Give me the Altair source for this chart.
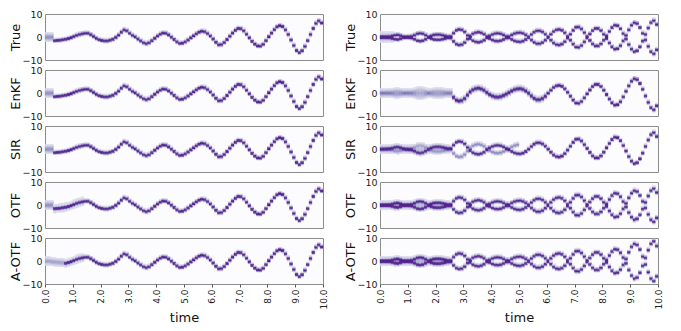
import numpy as np
import pandas as pd
import altair as alt

# ---- data -------------------------------------------------------------------------
# time grid: 100 steps of 0.1 over [0, 10]
n_steps = 100
dt = 0.1

# left column: state trajectory (value at each 0.1 step)
x_left = [0.0, 0.0, 0.0, -1.5, -1.4, -1.3, -1.1, -0.9, -0.6, -0.2,
          0.3, 0.8, 1.2, 1.5, 1.7, 1.7, 1.1, 0.3, -0.5, -1.1,
          -1.4, -1.6, -1.6, -1.3, -0.9, -0.1, 0.9, 2.2, 3.2, 2.8,
          1.7, 0.8, 0.1, -0.8, -1.6, -2.4, -2.8, -2.4, -1.5, -0.5,
          0.5, 1.3, 1.8, 1.7, 1.0, 0.0, -1.0, -2.0, -2.7, -2.6,
          -2.0, -1.2, -0.3, 0.6, 1.5, 2.2, 2.6, 2.4, 1.6, 0.5,
          -0.8, -2.2, -3.3, -3.2, -2.3, -1.0, 0.4, 1.8, 3.0, 3.8,
          3.7, 2.8, 1.3, -0.3, -1.8, -3.0, -3.8, -3.9, -3.1, -1.5,
          0.2, 1.8, 3.3, 4.5, 5.0, 4.6, 3.2, 1.2, -1.2, -3.6,
          -5.8, -6.7, -5.9, -4.0, -1.5, 1.2, 3.8, 6.0, 7.1, 6.2]

# right column: one branch of the (sign-ambiguous) state
x_right = [0.0, 0.0, 0.1, 0.2, 0.5, 0.9, 1.0, 0.7, 0.2, -0.1,
           -0.2, -0.4, -0.9, -1.5, -1.7, -1.5, -0.9, -0.1, 0.6, 1.0,
           1.1, 1.1, 0.9, 0.6, 0.3, -0.4, -1.8, -3.0, -3.4, -3.2,
           -2.3, -0.8, 0.6, 1.5, 2.0, 2.2, 1.9, 1.3, 0.3, -0.6,
           -1.2, -1.6, -1.7, -1.5, -1.0, -0.4, 0.3, 1.0, 1.6, 1.9,
           2.0, 1.7, 1.0, 0.0, -1.2, -2.2, -2.8, -2.8, -2.3, -1.3,
           0.0, 1.3, 2.5, 3.2, 3.4, 3.0, 1.9, 0.4, -1.3, -3.0,
           -4.3, -4.4, -3.6, -2.0, -0.3, 1.4, 2.9, 3.8, 3.8, 2.9,
           1.3, -0.6, -2.5, -4.2, -5.2, -5.0, -3.7, -1.6, 0.8, 3.2,
           5.2, 6.3, 5.9, 4.2, 1.7, -1.2, -4.0, -6.3, -7.2, -5.5]

# A-OTF (left) early blurred mean
aotf_left_early = [0.0, 0.0, -0.2, -0.4, -0.5, -0.6, -0.7]

methods = ["True", "EnKF", "SIR", "OTF", "A-OTF"]

# particle clouds: (base, first step, end step, sign, peak intensity, spread, gain)
left_tracks = {
    "True":  [("Z", 0, 3, 0, 0.5, 0.9, 1.0), ("L", 3, 100, 1, 1.8, 0.38, 1.0)],
    "EnKF":  [("Z", 0, 3, 0, 0.5, 0.9, 1.0), ("L", 3, 100, 1, 1.8, 0.38, 1.0)],
    "SIR":   [("Z", 0, 3, 0, 0.5, 0.9, 1.0), ("L", 3, 100, 1, 1.8, 0.38, 1.0)],
    "OTF":   [("Z", 0, 3, 0, 0.5, 0.9, 1.0), ("L", 3, 100, 1, 1.8, 0.38, 1.0),
              ("L", 3, 14, 1, 0.12, 1.2, 1.0)],
    "A-OTF": [("AL", 0, 7, 1, 0.4, 0.8, 1.0), ("L", 7, 100, 1, 1.8, 0.38, 1.0),
              ("L", 7, 14, 1, 0.12, 1.1, 1.0)],
}
right_tracks = {
    "True":  [("Z", 0, 5, 0, 0.4, 1.0, 1.0),
              ("R", 0, 100, 1, 1.6, 0.38, 1.0), ("R", 0, 100, -1, 1.6, 0.38, 1.0)],
    "EnKF":  [("Z", 0, 26, 0, 0.35, 0.9, 1.0),
              ("R", 0, 26, 1, 0.15, 0.6, 1.0), ("R", 0, 26, -1, 0.15, 0.6, 1.0),
              ("R", 26, 60, 1, 1.3, 0.55, 1.0), ("R", 60, 100, 1, 1.8, 0.38, 1.0)],
    "SIR":   [("Z", 0, 25, 0, 0.2, 1.0, 1.0),
              ("R", 0, 25, 1, 1.0, 0.5, 1.0), ("R", 0, 25, -1, 0.35, 0.5, 1.0),
              ("R", 25, 50, -1, 1.5, 0.4, 1.0), ("R", 25, 50, 1, 0.6, 0.45, 1.0),
              ("R", 50, 100, -1, 1.8, 0.38, 1.0)],
    "OTF":   [("Z", 0, 25, 0, 0.25, 1.0, 1.0),
              ("R", 0, 100, 1, 1.3, 0.42, 1.0), ("R", 0, 100, -1, 1.3, 0.42, 1.0)],
    "A-OTF": [("Z", 0, 25, 0, 0.3, 1.0, 1.0),
              ("R", 0, 88, 1, 1.3, 0.42, 1.0), ("R", 0, 88, -1, 1.3, 0.42, 1.0),
              ("R", 88, 100, 1, 1.3, 0.42, 1.2), ("R", 88, 100, -1, 1.3, 0.42, 1.2)],
}

# ---- density grid ------------------------------------------------------------------
bases = {"L": x_left, "R": x_right, "AL": aotf_left_early}
y_step = 0.4
y_edges = np.arange(-10.0, 10.0, y_step)
y_centers = y_edges + y_step / 2


def density_frame(tracks):
    grid = np.zeros((n_steps, len(y_edges)))
    for base, s, e, sign, peak, sig, gain in tracks:
        for i in range(s, e):
            m = 0.0 if base == "Z" else sign * bases[base][i] * gain
            grid[i] += peak * np.exp(-0.5 * ((y_centers - m) / sig) ** 2)
    grid = np.clip(grid, 0, 1)
    rows = []
    for i in range(n_steps):
        for j, y0 in enumerate(y_edges):
            if grid[i, j] >= 0.03:
                rows.append({"t": i * dt, "t2": (i + 1) * dt,
                             "y": float(y0), "y2": float(y0 + y_step),
                             "v": float(grid[i, j])})
    return pd.DataFrame(rows)


color_scale = alt.Scale(scheme="purples", domain=[0, 1], clamp=True)


def panel(tracks, title, bottom):
    df = density_frame(tracks)
    if bottom:
        xaxis = alt.Axis(values=list(range(11)), format=".1f", labelAngle=-90,
                         title="time", tickSize=3, tickColor="#555555",
                         labelPadding=2, titlePadding=2, labelFontSize=9,
                         titleFontSize=13, domain=False)
    else:
        xaxis = None
    return alt.Chart(df).mark_rect(strokeWidth=0.4).encode(
        x=alt.X("t:Q", scale=alt.Scale(domain=[0, 10], nice=False, zero=False), axis=xaxis),
        x2="t2:Q",
        y=alt.Y("y:Q", scale=alt.Scale(domain=[-10, 10], nice=False, zero=False),
                axis=alt.Axis(values=[-10, 0, 10], title=title, ticks=False, domain=False,
                              labelPadding=3, titlePadding=3, minExtent=20, maxExtent=20,
                              labelFontSize=9.5, titleFontSize=13)),
        y2="y2:Q",
        color=alt.Color("v:Q", scale=color_scale, legend=None),
        stroke=alt.Stroke("v:Q", scale=color_scale, legend=None),
    ).properties(width=278, height=46)


charts = []
for k, name in enumerate(methods):
    bottom = k == len(methods) - 1
    charts.append(panel(left_tracks[name], name, bottom))
    charts.append(panel(right_tracks[name], name, bottom))

chart = alt.concat(*charts, columns=2, spacing={"row": 10, "column": 57}, bounds="flush").properties(
    padding={"left": 0, "top": 0, "right": 0, "bottom": 0}
).configure_view(
    stroke="#8c8c8c", fill="#fcfbfd"
).configure_axis(
    labelFont="DejaVu Sans", titleFont="DejaVu Sans", labelColor="#222222",
    titleColor="#111111", titleFontWeight="normal", grid=False
)

chart.save("out.html", embed_options={"renderer": "svg", "actions": False})
